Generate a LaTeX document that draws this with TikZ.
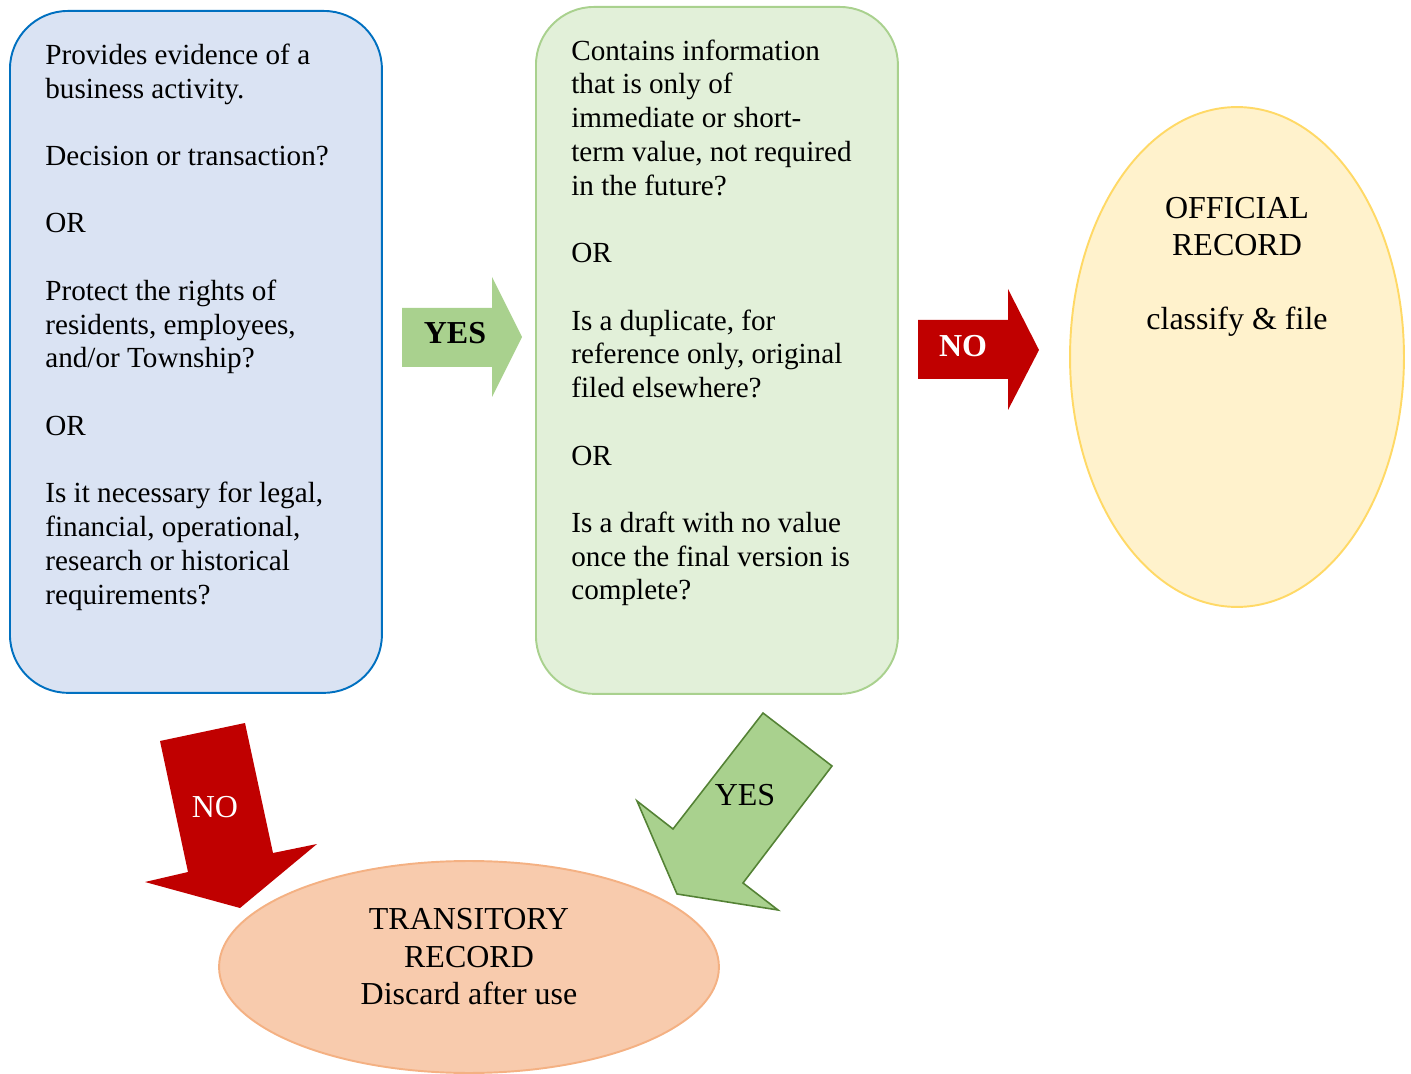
\documentclass[tikz,border=0pt]{standalone}
\usepackage{fontspec}
\setmainfont{Liberation Serif}
\usetikzlibrary{shapes.geometric}
\definecolor{bluefill}{HTML}{DAE3F3}
\definecolor{blueline}{HTML}{0070C0}
\definecolor{greenfill}{HTML}{E2F0D9}
\definecolor{greenline}{HTML}{A9D18E}
\definecolor{yellowfill}{HTML}{FFF2CC}
\definecolor{yellowline}{HTML}{FFD966}
\definecolor{orangefill}{HTML}{F8CBAD}
\definecolor{orangeline}{HTML}{F4B183}
\definecolor{arrowgreen}{HTML}{A9D18E}
\definecolor{arrowgreenline}{HTML}{548235}
\definecolor{arrowred}{HTML}{C00000}
\newcommand\bodyfnt{\fontsize{16.6}{19.2}\selectfont}
\newcommand\bigfnt{\fontsize{18.2}{21.06}\selectfont}
\tikzset{
  qbox/.style={rectangle, rounded corners=33pt, line width=1.1pt, inner sep=0pt, anchor=north west},
  oval/.style={ellipse, line width=1.1pt, inner sep=0pt},
  txt/.style={align=left, inner sep=0pt, font=\bodyfnt, anchor=base west},
  ctxt/.style={align=center, inner sep=0pt, font=\bigfnt, anchor=base},
  arrowlbl/.style={inner sep=0pt, font=\bigfnt},
}
\begin{document}
\begin{tikzpicture}[x=0.02cm,y=-0.02cm]
\useasboundingbox (0,0) rectangle (1411,1074);
% boxes
\node[qbox, fill=bluefill, draw=blueline, minimum width=7.44cm, minimum height=13.64cm] (q1) at (9,10) {};
\node[qbox, fill=greenfill, draw=greenline, minimum width=7.24cm, minimum height=13.74cm] (q2) at (535,6) {};
\node[oval, fill=yellowfill, draw=yellowline, minimum width=6.68cm, minimum height=10cm] (off) at (1237,357) {};
\node[oval, fill=orangefill, draw=orangeline, minimum width=10cm, minimum height=4.24cm] (tra) at (469,967) {};
% texts (anchored at the baseline of the last line)
\node[txt] (t1) at (45,604) {Provides evidence of a\\ business activity.\\ \mbox{}\\ Decision or transaction?\\ \mbox{}\\ OR\\ \mbox{}\\ Protect the rights of\\ residents, employees,\\ and/or Township?\\ \mbox{}\\ OR\\ \mbox{}\\ Is it necessary for legal,\\ financial, operational,\\ research or historical\\ requirements?};
\node[txt] (t2) at (571,600) {Contains information\\ that is only of\\ immediate or short-\\ term value, not required\\ in the future?\\ \mbox{}\\ OR\\ \mbox{}\\ Is a duplicate, for\\ reference only, original\\ filed elsewhere?\\ \mbox{}\\ OR\\ \mbox{}\\ Is a draft with no value\\ once the final version is\\ complete?};
\node[ctxt] (t3) at (1237,330) {OFFICIAL\\ RECORD\\ \mbox{}\\ classify \& file};
\node[ctxt] (t4) at (469,1004) {TRANSITORY\\ RECORD\\ Discard after use};
% block arrows
\fill[arrowgreen] (402,308) -- (492,308) -- (492,277) -- (522,337) -- (492,397) -- (492,367) -- (402,367) -- cycle;
\node[arrowlbl, font=\bigfnt\bfseries] (yes1) at (455,333) {YES};
\fill[arrowred] (918,320) -- (1008,320) -- (1008,289) -- (1039,350) -- (1008,410) -- (1008,379) -- (918,379) -- cycle;
\node[arrowlbl, font=\bigfnt\bfseries, text=white] (no1) at (963,346) {NO};
\fill[arrowred] (160,741) -- (245,723) -- (273,853) -- (317,844) -- (240,908) -- (145,882) -- (188,872) -- cycle;
\node[arrowlbl, text=white] (no2) at (215,807) {NO};
\filldraw[fill=arrowgreen, draw=arrowgreenline, line width=0.9pt, line join=miter] (763,713) -- (832,766) -- (743,883) -- (778,910) -- (677,894) -- (637,801) -- (673,829) -- cycle;
\node[arrowlbl] (yes2) at (745,795) {YES};
\end{tikzpicture}
\end{document}
